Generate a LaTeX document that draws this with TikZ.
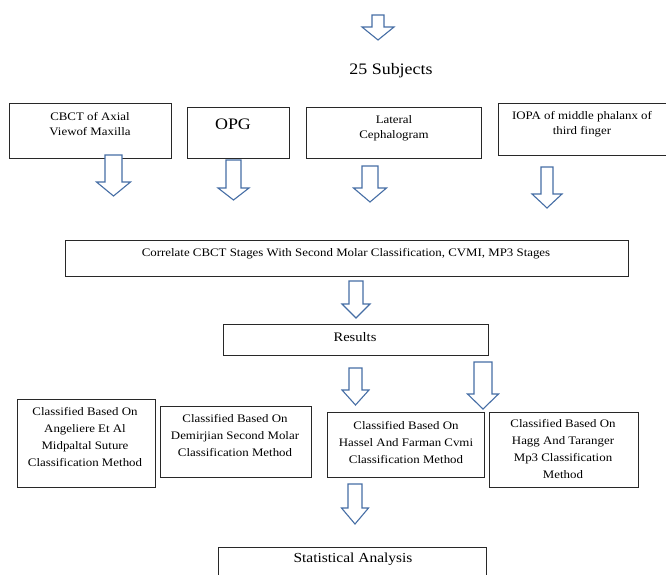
\documentclass[tikz,border=0pt]{standalone}
\usepackage{fontspec}
\setmainfont{Liberation Serif}[FakeStretch=1.12]
\definecolor{arrowblue}{RGB}{70,110,165}
\definecolor{boxline}{RGB}{40,40,40}
\newcommand\blockarrow[6]{%
  \draw[barrow] (#1-#3,#2) -- (#1+#3,#2) -- (#1+#3,#5) -- (#1+#4,#5) -- (#1,#6) -- (#1-#4,#5) -- (#1-#3,#5) -- cycle;}
\newcommand\boxfrom[5]{%
  \node[flowbox, minimum width={#4-#2}, minimum height={#5-#3}] (#1) at ({(#2+#4)/2},{(#3+#5)/2}) {};}
\tikzset{
  flowbox/.style={draw=boxline, line width=0.9pt, fill=white, inner sep=0pt, outer sep=0pt},
  barrow/.style={draw=arrowblue, line width=1.1pt, fill=white, line join=miter},
  txt/.style={align=center, inner sep=0pt, font=\fontsize{11.5}{15}\selectfont},
  ctxt/.style={align=center, inner sep=0pt, font=\fontsize{11.5}{17}\selectfont}
}
\begin{document}
\begin{tikzpicture}[x=1pt,y=-1pt]
\useasboundingbox[fill=white] (0,0) rectangle (666,575);

% boxes
\boxfrom{b1}{9}{103}{171}{158}
\boxfrom{b2}{187}{107}{289}{158}
\boxfrom{b3}{306}{107}{481}{158}
\boxfrom{b4}{498}{103}{668}{155}
\boxfrom{corr}{65}{240}{628}{276}
\boxfrom{res}{223}{324}{488}{355}
\boxfrom{ca}{17}{399}{155}{487}
\boxfrom{cb}{160}{406}{311}{477}
\boxfrom{cc}{327}{412}{484}{477}
\boxfrom{cd}{489}{412}{638}{487}
\boxfrom{stat}{218}{547}{486}{582}

% texts
\node[txt, font=\fontsize{16}{19}\selectfont] (subj) at (391,71) {25 Subjects};
\node[txt] (t1) at (90,124.5) {CBCT of Axial\\Viewof Maxilla};
\node[txt, font=\fontsize{16}{19}\selectfont] (t2) at (233,124) {OPG};
\node[txt] (t3) at (394,128.5) {Lateral\\Cephalogram};
\node[txt] (t4) at (582,124.5) {IOPA of middle phalanx of\\third finger};
\node[txt] (tc) at (346,254) {Correlate CBCT Stages With Second Molar Classification, CVMI, MP3 Stages};
\node[txt, font=\fontsize{13}{15}\selectfont] (tr) at (355,337) {Results};
\node[ctxt] (ta) at (85,437.5) {Classified Based On\\Angeliere Et Al\\Midpaltal Suture\\Classification Method};
\node[ctxt] (tb) at (235,436) {Classified Based On\\Demirjian Second Molar\\Classification Method};
\node[ctxt] (tcc) at (406,442.5) {Classified Based On\\Hassel And Farman Cvmi\\Classification Method};
\node[ctxt] (td) at (563,449) {Classified Based On\\Hagg And Taranger\\Mp3 Classification\\Method};
\node[txt, font=\fontsize{13.8}{16}\selectfont] (ts) at (353,559) {Statistical Analysis};

% block arrows
\blockarrow{378}{15}{6}{16}{27}{40}
\blockarrow{113.5}{155}{8.5}{17}{182}{196}
\blockarrow{233.5}{160}{7.5}{15.5}{188}{200}
\blockarrow{370}{166}{8}{16.5}{188}{202}
\blockarrow{547}{167}{6}{15}{194}{208}
\blockarrow{356}{281}{7}{14}{304}{318}
\blockarrow{355.5}{368}{6.5}{13.5}{390}{405}
\blockarrow{483}{362}{9}{15.5}{394}{409}
\blockarrow{355}{484}{7}{13.5}{508}{524}
\end{tikzpicture}
\end{document}
